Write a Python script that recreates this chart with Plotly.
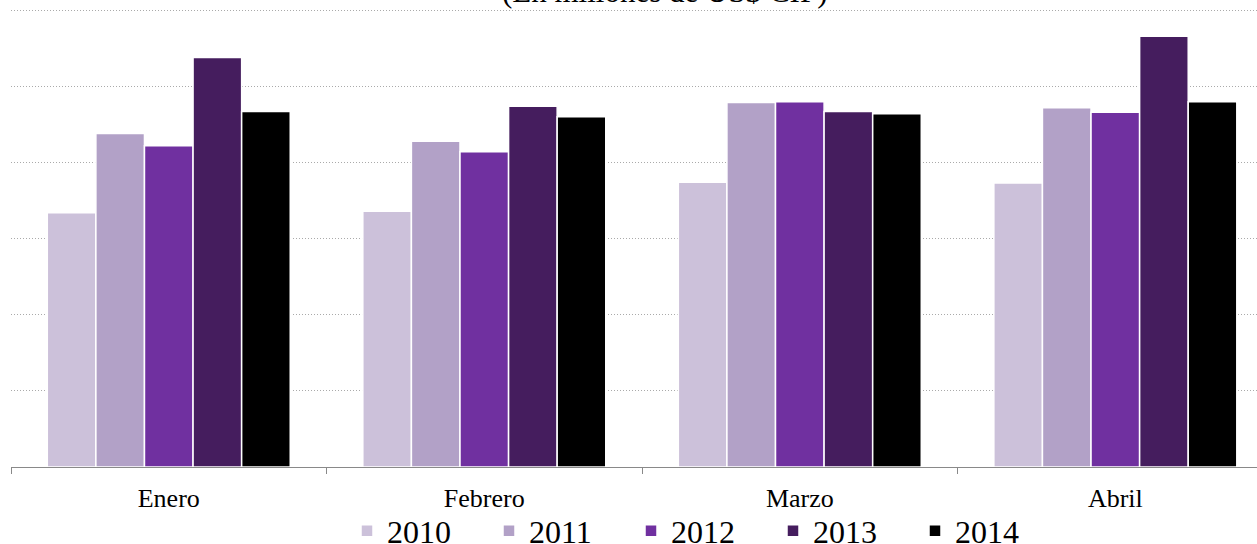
import plotly.graph_objects as go

months = ["Enero", "Febrero", "Marzo", "Abril"]
years = ["2010", "2011", "2012", "2013", "2014"]
v2010 = [334, 336, 374, 373]
v2011 = [438, 428, 479, 472]
v2012 = [422, 414, 480, 466]
v2013 = [538, 474, 467, 566]
v2014 = [467, 460, 464, 480]
series = [v2010, v2011, v2012, v2013, v2014]
colors = ["#ccc1da", "#b2a1c7", "#7030a0", "#451d5e", "#000000"]

FONT = "Liberation Serif"

fig = go.Figure()
for name, vals, col in zip(years, series, colors):
    fig.add_trace(go.Bar(
        x=months, y=vals, name=name,
        marker=dict(color=col, line=dict(color="#ffffff", width=1.5)),
    ))

fig.update_layout(
    width=1257, height=544,
    margin=dict(l=11, r=0, t=8, b=77, autoexpand=False),
    paper_bgcolor="white", plot_bgcolor="white",
    barmode="group", bargap=0.23, bargroupgap=0,
    font=dict(family=FONT, color="black"),
    showlegend=True,
    legend=dict(
        orientation="h", xref="container", yref="container",
        x=347 / 1257, xanchor="left", y=(544 - 531) / 544, yanchor="middle",
        font=dict(family=FONT, size=32, color="black"),
        entrywidth=97, entrywidthmode="pixels",
        bgcolor="rgba(0,0,0,0)", borderwidth=0,
    ),
    annotations=[dict(
        text="(En millones de US$ CIF)", xref="paper", yref="paper",
        x=0.525, y=1, xanchor="center", yanchor="bottom", yshift=-3,
        showarrow=False, font=dict(family=FONT, size=31, color="black"),
    )],
)
fig.update_xaxes(
    type="category", range=[-0.5, 3.449],
    showline=True, linecolor="#898989", linewidth=1.3,
    ticks="outside", tickson="boundaries", ticklen=6, tickcolor="#898989", tickwidth=1.3,
    tickfont=dict(family=FONT, size=26, color="black"),
    ticklabelstandoff=8,
    showgrid=False,
)
fig.update_yaxes(
    range=[0, 603], tickvals=[100, 200, 300, 400, 500, 600], showticklabels=False,
    showgrid=True, gridcolor="#aaaaaa", griddash="1px,2px", gridwidth=1,
    zeroline=False, showline=False, ticks="",
)

fig.write_html("out.html", config={"displayModeBar": False},
               post_script="document.body.style.margin='0';")
